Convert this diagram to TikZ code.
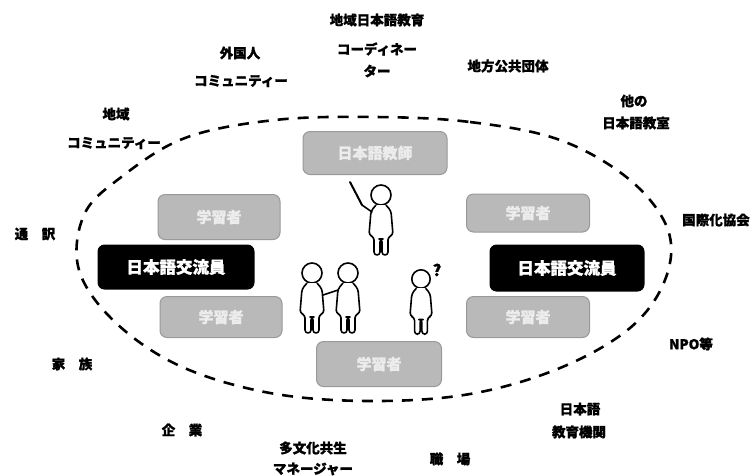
\documentclass[tikz,border=0pt]{standalone}
\usepackage{fontspec}
\setmainfont{Noto Sans CJK JP}[BoldFeatures={FakeBold=1.2}]
\begin{document}
\begin{tikzpicture}[x=1pt,y=-1pt,
  lbl/.style={font=\bfseries\fontsize{13.5}{15}\selectfont, inner sep=0pt},
  graybox/.style={fill=gray!55, draw=gray!80, line width=1pt, rounded corners=7pt,
    text=white!85!gray, font=\bfseries\fontsize{15}{17}\selectfont, inner sep=0pt},
  blackbox/.style={fill=black, rounded corners=7pt, text=white,
    font=\bfseries\fontsize{16.5}{18}\selectfont, inner sep=0pt},
  ring/.style={line width=2.6pt, dash pattern=on 11pt off 9pt},
  fig/.style={line width=1.6pt, fill=white, line join=round},
  person/.pic={
    \draw[fig] (0,0) circle (10);
    \draw[fig, rounded corners=3] (-5,10) -- (-10,16) -- (-12,40) -- (-7,42) -- (-7,60)
      -- (-1,60) -- (-1,44) -- (1,44) -- (1,60) -- (7,60) -- (7,42) -- (12,40)
      -- (10,16) -- (5,10);
  }
]
\useasboundingbox (0,0) rectangle (752,475);

% dashed boundary
\draw[ring] plot[smooth cycle, tension=0.6] coordinates {
  (375,117) (470,122) (560,140) (630,180) (668,230) (665,280) (630,328)
  (560,368) (470,394) (370,401) (270,393) (180,366) (115,322) (79,270)
  (84,215) (120,178) (185,138) (275,120)};

% boxes inside
\node[graybox, minimum width=144, minimum height=43] (teacher) at (375,153) {日本語教師};
\node[graybox, minimum width=122, minimum height=45] (lt) at (219,217) {学習者};
\node[blackbox, minimum width=157, minimum height=45] (lx) at (176,267) {日本語交流員};
\node[graybox, minimum width=122, minimum height=41] (lb) at (221,317) {学習者};
\node[graybox, minimum width=123, minimum height=38] (rt) at (528,213) {学習者};
\node[blackbox, minimum width=155, minimum height=47] (rx) at (567,268) {日本語交流員};
\node[graybox, minimum width=123, minimum height=41] (rb) at (528,317) {学習者};
\node[graybox, minimum width=125, minimum height=45] (bc) at (379,364) {学習者};

% figures
\draw[line width=2pt, line cap=round] (350,182) -- (362,205);
\pic at (381,195) {person};
\draw[fig, line cap=round] (372,212) -- (362,205);
\pic at (312,273) {person};
\pic at (348,273) {person};
\draw[fig, line cap=round] (338,290) -- (323,295);
\pic[scale=0.92] at (421,279) {person};
\node[font=\bfseries\fontsize{16}{18}\selectfont, inner sep=0pt] (q) at (437,270) {?};

% surrounding labels
\node[lbl] (a1) at (377,20) {地域日本語教育};
\node[lbl] (a2) at (377,49) {コーディネー};
\node[lbl] (a3) at (377,71) {ター};
\node[lbl] (b1) at (240,53) {外国人};
\node[lbl] (b2) at (241,81) {コミュニティー};
\node[lbl] (c1) at (508,66) {地方公共団体};
\node[lbl] (d1) at (116,114) {地域};
\node[lbl] (d2) at (114,143) {コミュニティー};
\node[lbl] (e1) at (634,101) {他の};
\node[lbl] (e2) at (636,123) {日本語教室};
\node[lbl] (f1) at (716,220) {国際化協会};
\node[lbl] (g1) at (35,234) {通　訳};
\node[lbl] (h1) at (691,344) {NPO等};
\node[lbl] (i1) at (72,364) {家　族};
\node[lbl] (j1) at (182,430) {企　業};
\node[lbl] (k1) at (313,448) {多文化共生};
\node[lbl] (k2) at (313,469) {マネージャー};
\node[lbl] (l1) at (450,459) {職　場};
\node[lbl] (m1) at (580,409) {日本語};
\node[lbl] (m2) at (579,432) {教育機関};
\end{tikzpicture}
\end{document}
